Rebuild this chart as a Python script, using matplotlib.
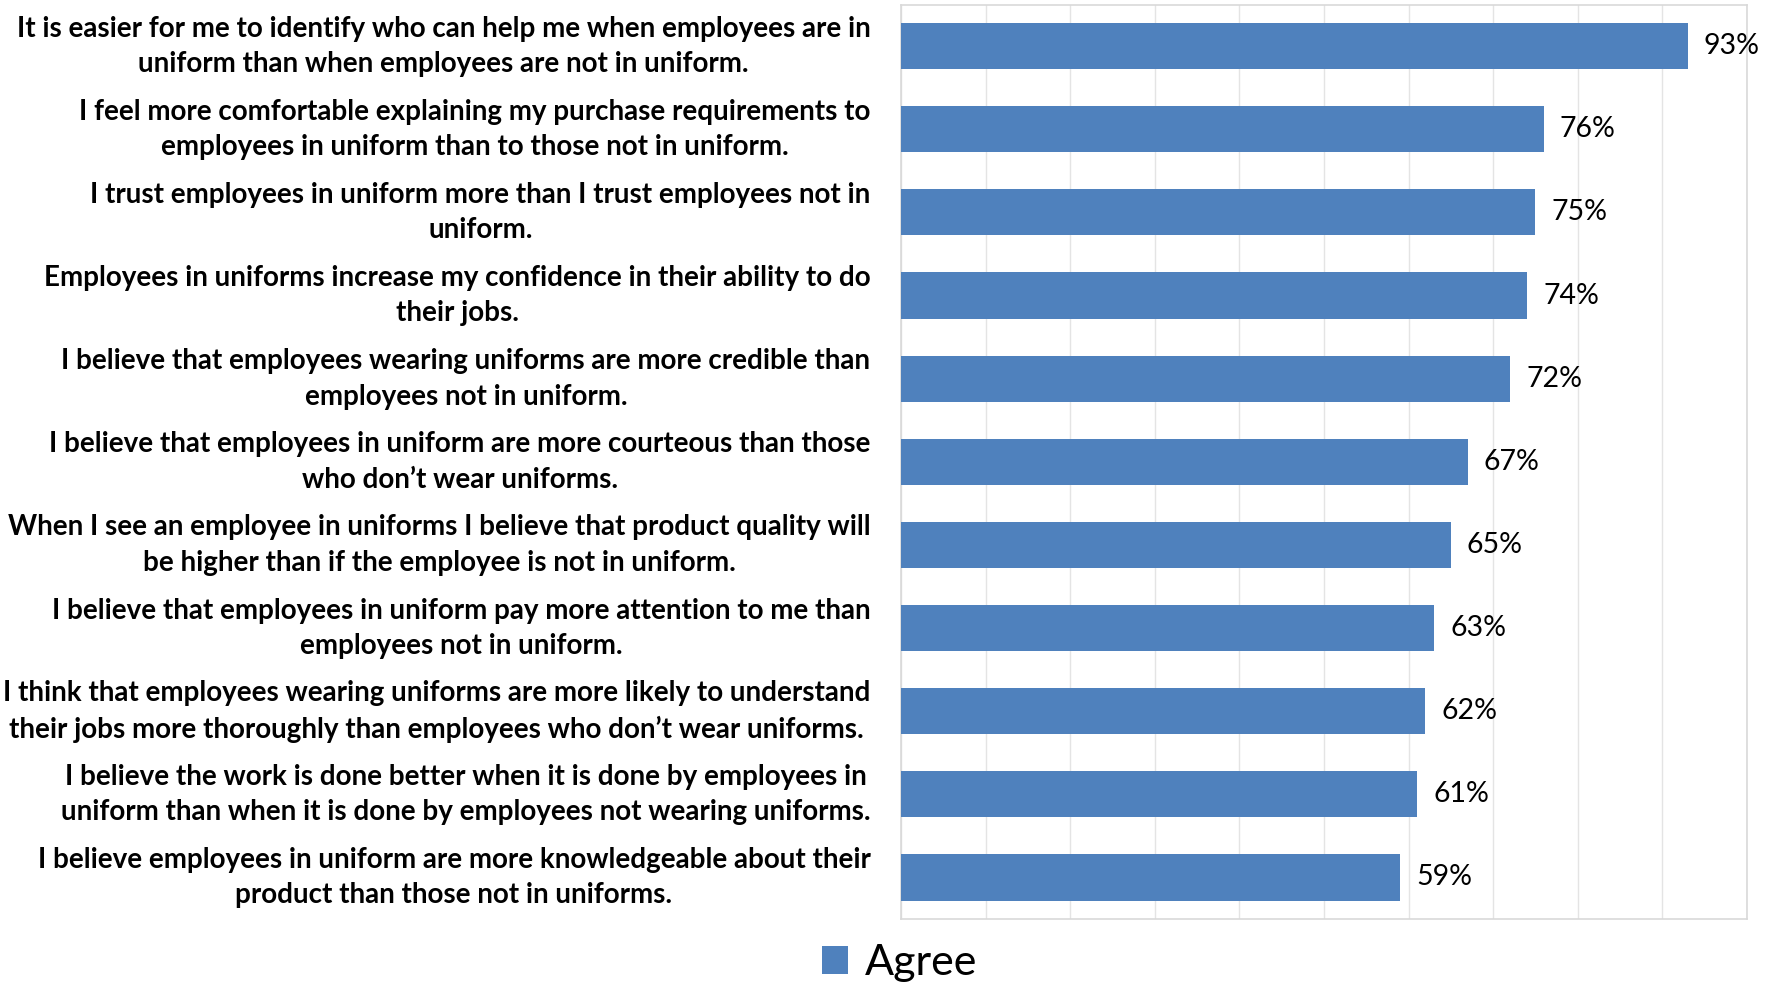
import matplotlib.pyplot as plt
from matplotlib.patches import Patch
from matplotlib.transforms import ScaledTranslation

# Statements, top to bottom, and share who agree (%)
statements = [
    "It is easier for me to identify who can help me when employees are in\nuniform than when employees are not in uniform.",
    "I feel more comfortable explaining my purchase requirements to\nemployees in uniform than to those not in uniform.",
    "I trust employees in uniform more than I trust employees not in\nuniform.",
    "Employees in uniforms increase my confidence in their ability to do\ntheir jobs.",
    "I believe that employees wearing uniforms are more credible than\nemployees not in uniform.",
    "I believe that employees in uniform are more courteous than those\nwho don\u2019t wear uniforms.",
    "When I see an employee in uniforms I believe that product quality will\nbe higher than if the employee is not in uniform.",
    "I believe that employees in uniform pay more attention to me than\nemployees not in uniform.",
    "I think that employees wearing uniforms are more likely to understand\ntheir jobs more thoroughly than employees who don\u2019t wear uniforms.",
    "I believe the work is done better when it is done by employees in\nuniform than when it is done by employees not wearing uniforms.",
    "I believe employees in uniform are more knowledgeable about their\nproduct than those not in uniforms.",
]
agree = [93, 76, 75, 74, 72, 67, 65, 63, 62, 61, 59]

plt.rcParams["font.family"] = ["Lato", "DejaVu Sans"]

bar_color = "#4f81bd"

fig = plt.figure(figsize=(17.75, 9.84), dpi=100)
ax = fig.add_axes([0.5076, 0.066, 0.4766, 0.9294])

ypos = list(range(len(agree)))[::-1]
ax.barh(ypos, agree, height=0.556, color=bar_color, zorder=3)

for y, v in zip(ypos, agree):
    ax.text(v + 1.9, y, f"{v}%", va="center", ha="left", fontsize=20.5, color="#000000")

ax.set_xlim(0, 100)
ax.set_ylim(-0.5, len(agree) - 0.5)
ax.set_xticks(range(0, 101, 10))
ax.set_xticklabels([])
ax.tick_params(axis="x", length=0)
ax.grid(axis="x", color="#e4e4e4", linewidth=1, zorder=0)

ax.set_yticks(ypos)
ax.set_yticklabels(statements, fontsize=20, fontweight="bold", ha="right",
                   multialignment="center", linespacing=1.45)
ax.tick_params(axis="y", length=0, pad=22)
# nudge the two-line labels up a little so they sit level with the bars
nudge = ScaledTranslation(0, 0.07, fig.dpi_scale_trans)
for lbl in ax.get_yticklabels():
    lbl.set_transform(lbl.get_transform() + nudge)

for s in ax.spines.values():
    s.set_color("#d9d9d9")
    s.set_linewidth(1.2)

fig.legend(handles=[Patch(facecolor=bar_color, label="Agree")],
           loc="center", bbox_to_anchor=(0.507, 0.021), frameon=False,
           fontsize=31, handlelength=0.6, handleheight=0.6, handletextpad=0.4)

fig.savefig("out.png", dpi=100)
